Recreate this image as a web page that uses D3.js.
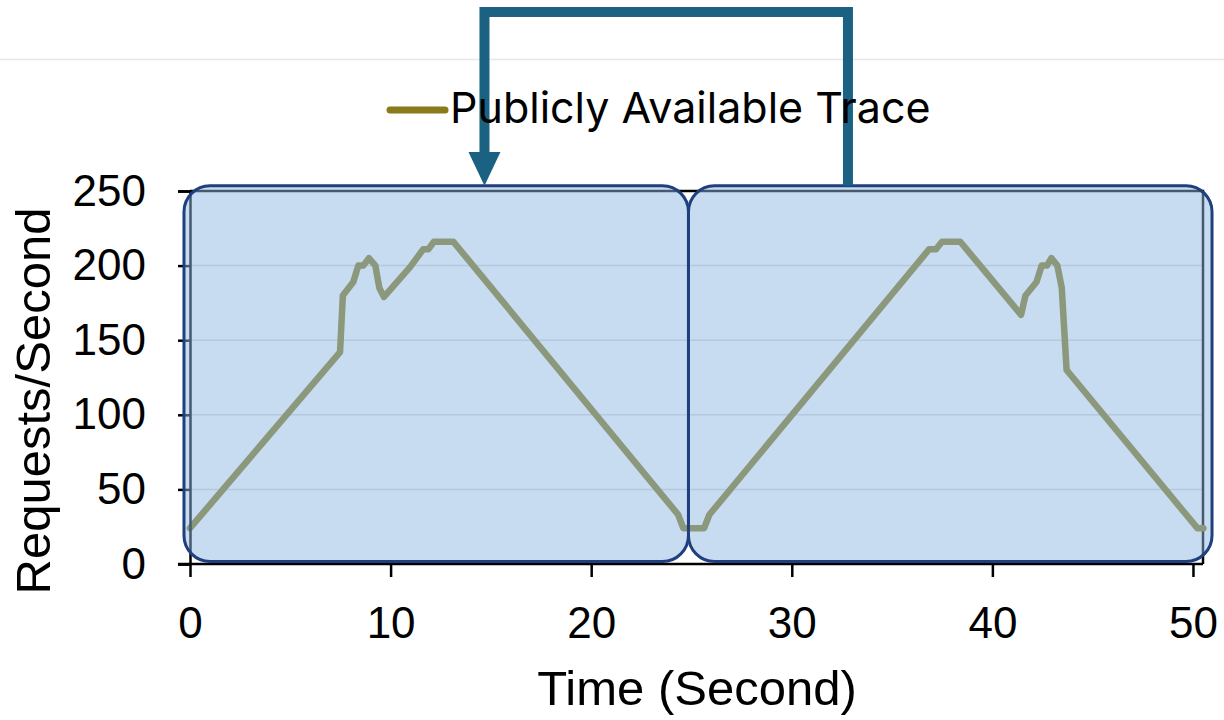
<!DOCTYPE html>
<html>
<head>
<meta charset="utf-8">
<script src="https://cdn.jsdelivr.net/npm/d3@7.9.0/dist/d3.min.js"></script>
<style>
  html, body { margin: 0; padding: 0; background: #fff; }
  svg { display: block; }
  .axis text { font-family: "Liberation Sans", Arial, sans-serif; font-size: 44px; fill: #000; }
  .axis line, .axis path { stroke: #000; stroke-width: 2.5; }
</style>
</head>
<body>
<svg id="chart" width="1224" height="720"></svg>
<script>
// trace: time (s) and requests per second
const times = [0, 7.48, 7.62, 8.14, 8.39, 8.64, 8.92, 9.24, 9.44, 9.67, 10.97, 11.63, 11.88, 12.16, 13.13,
  24.34, 24.59, 25.63, 25.89, 36.85, 37.19, 37.49, 38.4, 41.43, 41.65, 42.2, 42.46, 42.72, 42.94,
  43.24, 43.46, 43.7, 50.22, 50.52];
const requests = [24, 142, 180, 189, 200, 200, 205, 200, 185, 179, 199, 211, 211, 216, 216,
  33, 24, 24, 33, 211, 211, 216, 216, 167, 180, 189, 200, 200, 205,
  200, 185, 130, 24, 24];

const xTicks = [0, 10, 20, 30, 40, 50];
const yTicks = [0, 50, 100, 150, 200, 250];
const gridValues = [50, 100, 150, 200];

// the two highlighted windows, in data units [x0, x1]
const windows = [[-0.3, 24.85], [24.85, 50.95]];

const seriesName = 'Publicly Available Trace';

const svg = d3.select('#chart');
const plotLeft = 190, plotRight = 1203, plotTop = 191, plotBottom = 564;

const x = d3.scaleLinear().domain([0, 50.5]).range([plotLeft, plotRight]);
const y = d3.scaleLinear().domain([0, 250]).range([plotBottom, plotTop]);

// thin rule near the top of the slide
svg.append('line')
  .attr('x1', 0).attr('x2', 1224).attr('y1', 59.5).attr('y2', 59.5)
  .attr('stroke', '#e8e8e8').attr('stroke-width', 1.5);

// gridlines
svg.selectAll('.grid')
  .data(gridValues)
  .join('line')
  .attr('class', 'grid')
  .attr('x1', plotLeft).attr('x2', plotRight)
  .attr('y1', d => y(d)).attr('y2', d => y(d))
  .attr('stroke', '#d9d9d9').attr('stroke-width', 1.5);

// plot frame top and right
svg.append('path')
  .attr('d', `M${plotLeft},${plotTop}H${plotRight}V${plotBottom}`)
  .attr('fill', 'none').attr('stroke', '#000').attr('stroke-width', 2.5);

let line = d3.line()
  .x((d, i) => x(times[i]))
  .y(d => y(d));

svg.append('path')
  .datum(requests)
  .attr('d', line)
  .attr('fill', 'none')
  .attr('stroke', '#8a7a1c')
  .attr('stroke-width', 6.5)
  .attr('stroke-linejoin', 'round')
  .attr('stroke-linecap', 'round');

// axes
svg.append('g')
  .attr('class', 'axis')
  .attr('transform', `translate(0,${plotBottom})`)
  .call(d3.axisBottom(x).tickValues(xTicks).tickSizeOuter(0).tickSize(13).tickPadding(30))
  .call(g => g.select('.domain').attr('d', `M${plotLeft - 12},0H${plotRight}`));

svg.append('g')
  .attr('class', 'axis')
  .attr('transform', `translate(${plotLeft},0)`)
  .call(d3.axisLeft(y).tickValues(yTicks).tickSizeOuter(0).tickSize(12).tickPadding(32));

// translucent windows over the trace
svg.selectAll('.win')
  .data(windows)
  .join('rect')
  .attr('class', 'win')
  .attr('x', d => x(d[0]))
  .attr('width', d => x(d[1]) - x(d[0]))
  .attr('y', y(253.5))
  .attr('height', y(1.7) - y(253.5))
  .attr('rx', 26).attr('ry', 26)
  .attr('fill', '#8cb7e0').attr('fill-opacity', 0.49)
  .attr('stroke', '#1f3f7f').attr('stroke-width', 3);

// arrow from second window back to first
const arrowColor = '#1a6182';
svg.append('path')
  .attr('d', `M${x(32.8)},${y(253.5)}V12H${x(14.68)}V152`)
  .attr('fill', 'none').attr('stroke', arrowColor).attr('stroke-width', 10);
svg.append('path')
  .attr('d', `M${x(14.68) - 16},152L${x(14.68) + 16},152L${x(14.68)},${y(253.5)}Z`)
  .attr('fill', arrowColor);

// legend
svg.append('line')
  .attr('x1', 390).attr('x2', 445).attr('y1', 110).attr('y2', 110)
  .attr('stroke', '#8a7a1c').attr('stroke-width', 7).attr('stroke-linecap', 'round');
svg.append('text')
  .attr('x', 450).attr('y', 123)
  .attr('font-family', 'Inter, "Noto Sans", sans-serif')
  .attr('font-size', 43)
  .text(seriesName);

// axis titles
svg.append('text')
  .attr('transform', 'translate(50,401) rotate(-90)')
  .attr('text-anchor', 'middle')
  .attr('font-family', '"Liberation Sans", Arial, sans-serif')
  .attr('font-size', 49)
  .text('Requests/Second');

svg.append('text')
  .attr('x', 697).attr('y', 705)
  .attr('text-anchor', 'middle')
  .attr('font-family', '"Liberation Sans", Arial, sans-serif')
  .attr('font-size', 49)
  .text('Time (Second)');
</script>
</body>
</html>
